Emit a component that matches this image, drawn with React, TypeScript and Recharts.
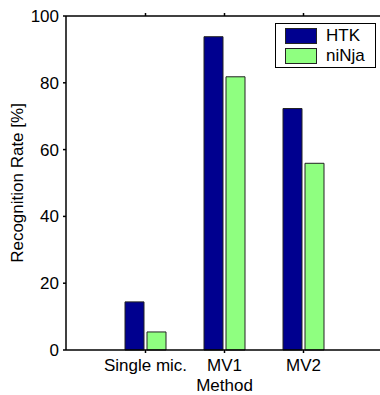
import { BarChart, Bar, XAxis, YAxis } from 'recharts';

const methods = ['Single mic.', 'MV1', 'MV2'];
const htk = [14.4, 93.8, 72.3];
const ninja = [5.4, 81.8, 55.9];
const yTicks = [0, 20, 40, 60, 80, 100];

const data = methods.map((m, i) => ({ method: m, HTK: htk[i], niNja: ninja[i] }));

const FONT = '"Liberation Sans", Arial, sans-serif';
const NAVY = '#00008f';
const GREEN = '#8fff80';
// plot runs past the right edge of the picture, like the reference
const PAD = { left: 40, right: 57 };

const legendItems = [
  { name: 'HTK', color: NAVY },
  { name: 'niNja', color: GREEN },
];

const LegendBox = () => (
  <div
    style={{
      position: 'absolute',
      left: 275,
      top: 23,
      border: '1px solid #000',
      background: '#fff',
      width: 101,
      height: 45,
      boxSizing: 'border-box',
      fontFamily: FONT,
      fontSize: 17,
    }}
  >
    {legendItems.map((item, i) => (
      <div key={item.name} style={{ position: 'absolute', left: 9, top: 4 + i * 20, display: 'flex', alignItems: 'center' }}>
        <span style={{ display: 'inline-block', width: 30, height: 14, background: item.color, border: '1px solid #222' }} />
        <span style={{ marginLeft: 9, lineHeight: '16px' }}>{item.name}</span>
      </div>
    ))}
  </div>
);

const YLabel = (props: any) => {
  const vb = props.viewBox;
  const cy = vb.y + vb.height / 2;
  return (
    <text x={23} y={cy} transform={`rotate(-90 23 ${cy})`} textAnchor="middle" fontSize={17} fontFamily={FONT} fill="#000">
      Recognition Rate [%]
    </text>
  );
};

const XLabel = (props: any) => {
  const vb = props.viewBox;
  const cx = vb.x + PAD.left + (vb.width - PAD.left - PAD.right) / 2;
  return (
    <text x={cx} y={391} textAnchor="middle" fontSize={17} fontFamily={FONT} fill="#000">
      Method
    </text>
  );
};

export default function App() {
  return (
    <div style={{ position: 'absolute', left: 0, top: 0, width: 380, height: 395, overflow: 'hidden', background: '#fff' }}>
      <BarChart
        width={408}
        height={395}
        data={data}
        margin={{ top: 12, right: 8, left: 0, bottom: 0 }}
        barSize={19}
        barGap={3}
      >
        <XAxis
          dataKey="method"
          padding={PAD}
          height={45}
          tickSize={3}
          tickMargin={6}
          stroke="#000"
          strokeWidth={1.5}
          tick={{ fill: '#000', fontSize: 17, fontFamily: FONT }}
          label={<XLabel />}
        />
        <XAxis
          xAxisId="top"
          dataKey="method"
          orientation="top"
          padding={PAD}
          height={4}
          tickSize={3}
          stroke="#000"
          strokeWidth={1.5}
          tickFormatter={() => ''}
        />
        <YAxis
          domain={[0, 100]}
          ticks={yTicks}
          width={66}
          tickSize={3}
          tickMargin={4}
          stroke="#000"
          strokeWidth={1.5}
          tick={{ fill: '#000', fontSize: 17, fontFamily: FONT }}
          label={<YLabel />}
        />
        <Bar dataKey="HTK" fill={NAVY} stroke="#222" strokeWidth={1} isAnimationActive={false} />
        <Bar dataKey="niNja" fill={GREEN} stroke="#222" strokeWidth={1} isAnimationActive={false} />
      </BarChart>
      <LegendBox />
      <div style={{ position: 'absolute', left: 377, top: 17, width: 3, height: 332, background: '#fff' }} />
    </div>
  );
}
